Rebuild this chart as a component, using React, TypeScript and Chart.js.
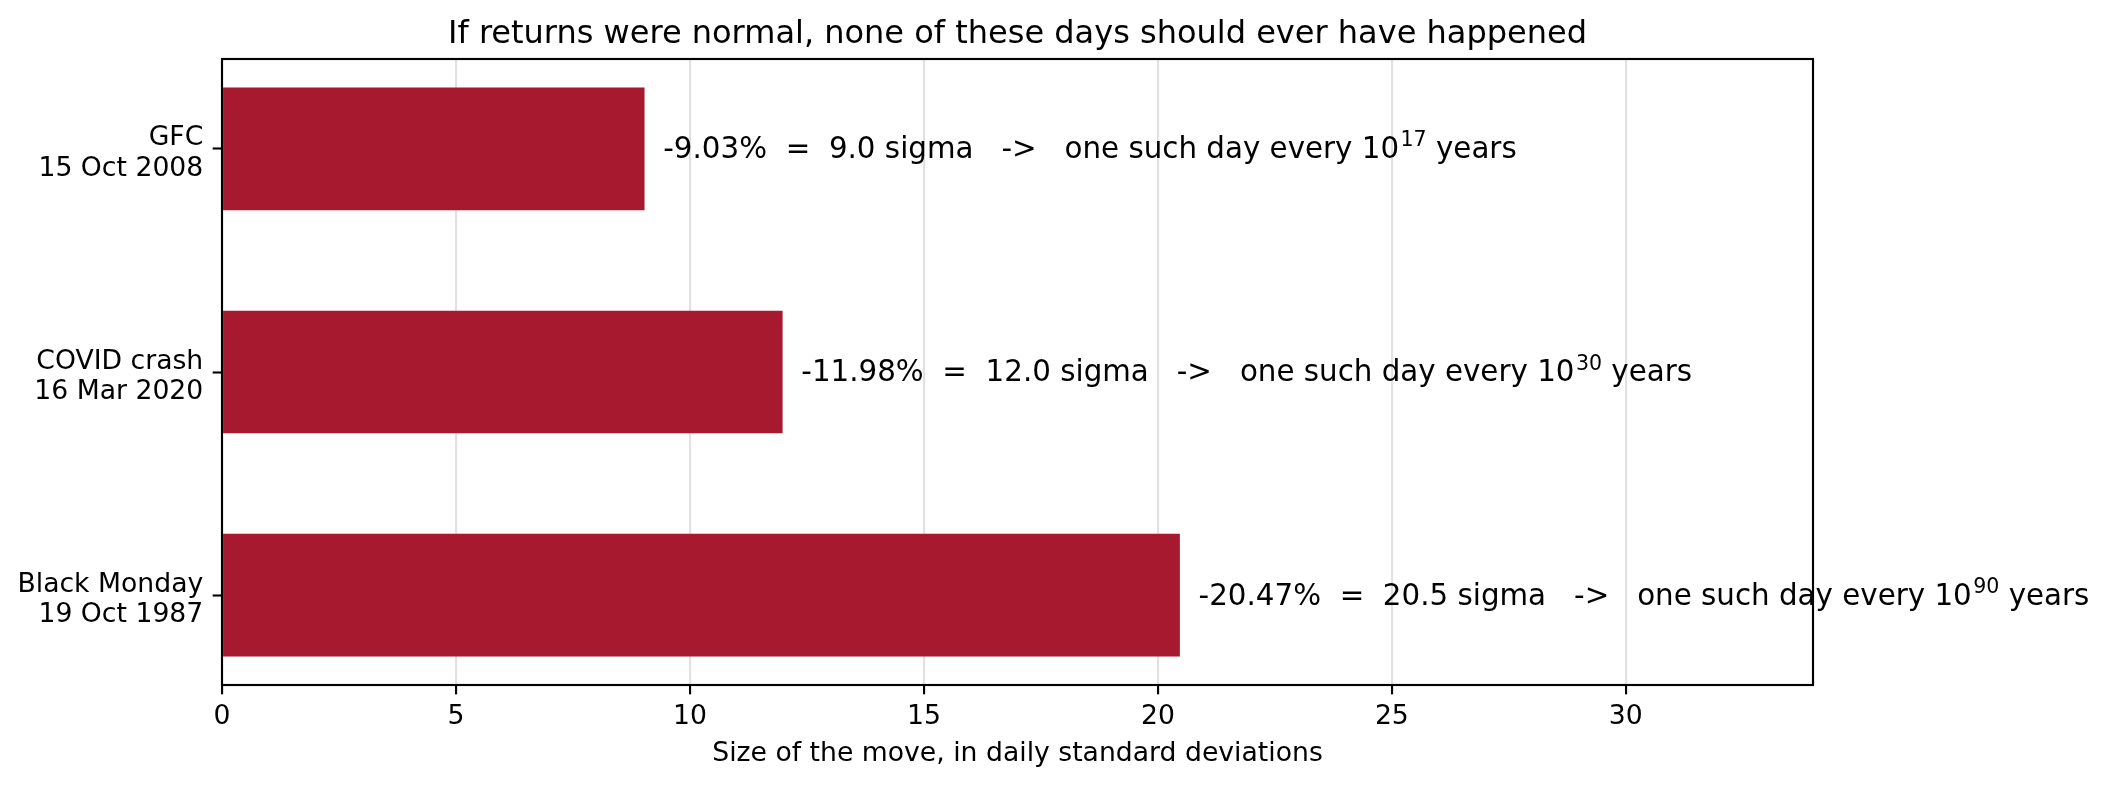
import React, { useEffect, useRef } from 'react';
import { Chart, registerables } from 'chart.js';

Chart.register(...registerables);

// ---- data ----
const eventNames = ['GFC', 'COVID crash', 'Black Monday'];
const eventDates = ['15 Oct 2008', '16 Mar 2020', '19 Oct 1987'];
const dailyReturnsPct = [-9.03, -11.98, -20.47];
const sigmaMoves = [9.03, 11.98, 20.47];
const yearsExponent = [17, 30, 90];
const xTickValues = [0, 5, 10, 15, 20, 25, 30];
const chartTitle = 'If returns were normal, none of these days should ever have happened';
const xAxisTitle = 'Size of the move, in daily standard deviations';

// ---- style ----
const PT = 192 / 72;
const FONT = '"DejaVu Sans", "Liberation Sans", sans-serif';
const BAR_COLOR = '#A6192E';
const GRID_COLOR = 'rgba(176,176,176,0.38)';
const LABEL_GAP = 0.4; // data units between bar end and annotation
const X_MAX = 34;
const Y_MIN = -0.4025;
const Y_MAX = 2.4025;

const overlayPlugin = {
  id: 'overlay',
  afterDraw(chart: any) {
    const { ctx, chartArea: a, scales } = chart;
    ctx.save();
    // spines
    ctx.strokeStyle = '#000';
    ctx.lineWidth = 0.8 * PT;
    ctx.strokeRect(a.left, a.top, a.right - a.left, a.bottom - a.top);
    // title
    ctx.fillStyle = '#000';
    ctx.font = `${12 * PT}px ${FONT}`;
    ctx.textAlign = 'center';
    ctx.textBaseline = 'alphabetic';
    ctx.fillText(chartTitle, (a.left + a.right) / 2, a.top - 6 * PT);
    // annotations
    const fs = 11 * PT;
    ctx.textAlign = 'left';
    sigmaMoves.forEach((s, i) => {
      const x0 = scales.x.getPixelForValue(s + LABEL_GAP);
      const y = scales.y.getPixelForValue(i) + 0.32 * fs;
      const main = `${dailyReturnsPct[i].toFixed(2)}%  =  ${s.toFixed(1)} sigma   ->   one such day every 10`;
      ctx.font = `${fs}px ${FONT}`;
      ctx.fillText(main, x0, y);
      let x = x0 + ctx.measureText(main).width + 0.05 * fs;
      const sup = String(yearsExponent[i]);
      ctx.font = `${0.7 * fs}px ${FONT}`;
      ctx.fillText(sup, x, y - 0.4 * fs);
      x += ctx.measureText(sup).width;
      ctx.font = `${fs}px ${FONT}`;
      ctx.fillText(' years', x, y);
    });
    ctx.restore();
  },
};

export default function App() {
  const ref = useRef<HTMLCanvasElement>(null);
  useEffect(() => {
    document.body.style.margin = '0';
    document.body.style.overflow = 'hidden';
    const tickFontSize = 10 * PT;
    const chart = new Chart(ref.current as HTMLCanvasElement, {
      type: 'bar',
      data: {
        datasets: [
          {
            data: sigmaMoves.map((v, i) => ({ x: v, y: i })),
            backgroundColor: BAR_COLOR,
            borderWidth: 0,
            barPercentage: 0.55,
            categoryPercentage: 1,
          },
        ],
      },
      options: {
        indexAxis: 'y',
        responsive: false,
        maintainAspectRatio: false,
        animation: false,
        devicePixelRatio: 1,
        layout: { padding: { left: 0, right: 297, top: 59, bottom: 0 } },
        plugins: {
          legend: { display: false },
          tooltip: { enabled: false },
          title: { display: false },
        },
        scales: {
          x: {
            type: 'linear',
            position: 'bottom',
            min: 0,
            max: X_MAX,
            z: 1,
            afterBuildTicks: (s: any) => {
              s.ticks = xTickValues.map((v) => ({ value: v }));
            },
            afterFit: (s: any) => {
              s.height = 102;
            },
            border: { display: false },
            grid: {
              color: GRID_COLOR,
              lineWidth: 0.8 * PT,
              drawTicks: true,
              tickLength: 3.5 * PT,
              tickColor: '#000',
              tickWidth: 0.8 * PT,
            },
            ticks: {
              color: '#000',
              font: { family: FONT, size: tickFontSize, lineHeight: 1.2 },
              padding: 6.3,
              maxRotation: 0,
              autoSkip: false,
            },
            title: {
              display: true,
              text: xAxisTitle,
              color: '#000',
              font: { family: FONT, size: tickFontSize, lineHeight: 1.2 },
              padding: { top: 0, bottom: 17.2 },
            },
          },
          y: {
            type: 'linear',
            min: Y_MIN,
            max: Y_MAX,
            reverse: true,
            offset: false,
            afterBuildTicks: (s: any) => {
              s.ticks = eventNames.map((_, i) => ({ value: i }));
            },
            afterFit: (s: any) => {
              s.width = 222;
            },
            border: { display: false },
            grid: {
              offset: false,
              drawOnChartArea: false,
              drawTicks: true,
              tickLength: 3.5 * PT,
              tickColor: '#000',
              tickWidth: 0.8 * PT,
            },
            ticks: {
              color: '#000',
              font: { family: FONT, size: tickFontSize, lineHeight: 30.5 / tickFontSize },
              padding: 9.4,
              labelOffset: 5,
              autoSkip: false,
              callback: (v: any) => [eventNames[v], eventDates[v]],
            },
          },
        },
      },
      plugins: [overlayPlugin],
    } as any);
    return () => chart.destroy();
  }, []);
  return (
    <div style={{ position: 'absolute', left: 0, top: 0, width: 2110, height: 787, background: '#fff' }}>
      <canvas ref={ref} width={2110} height={787} style={{ display: 'block', width: 2110, height: 787 }} />
    </div>
  );
}
